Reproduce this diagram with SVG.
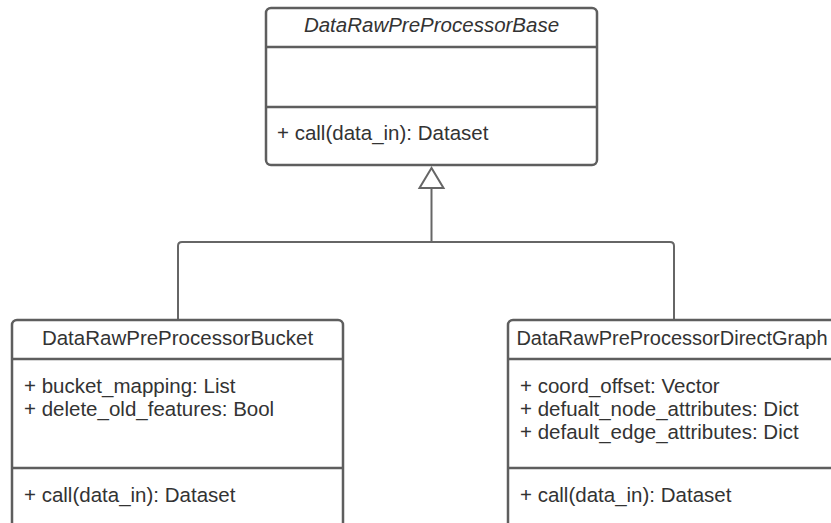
<svg xmlns="http://www.w3.org/2000/svg" width="831" height="523" viewBox="0 0 831 523">
  <style>
    .box { fill: #ffffff; stroke: #5e5e5e; stroke-width: 2.5; }
    .sep { stroke: #5e5e5e; stroke-width: 2.5; fill: none; }
    .edge { stroke: #666666; stroke-width: 2; fill: none; }
    .tri { fill: #ffffff; stroke: #666666; stroke-width: 2; stroke-linejoin: miter; }
    text { font-family: "Liberation Sans", Arial, sans-serif; font-size: 20.5px; fill: #333333; }
    .title { text-anchor: middle; }
    .abstract { font-style: italic; }
    .narrow { font-size: 20px; }
  </style>
  <rect width="831" height="523" fill="#ffffff"/>

  <!-- inheritance connectors -->
  <g id="connectors">
    <path class="edge" d="M178 320 V246 Q178 242 182 242 H670 Q674 242 674 246 V320"/>
    <path class="edge" d="M431.5 188 V242"/>
    <polygon class="tri" points="431.5,168 419.5,188 443.5,188"/>
  </g>

  <g id="DataRawPreProcessorBase">
    <rect class="box" x="266" y="8" width="331" height="157" rx="5"/>
    <line class="sep" x1="266" y1="47" x2="597" y2="47"/>
    <line class="sep" x1="266" y1="107" x2="597" y2="107"/>
    <text class="title abstract" x="431.5" y="32">DataRawPreProcessorBase</text>
    <text x="277" y="140">+ call(data_in): Dataset</text>
  </g>

  <g id="DataRawPreProcessorBucket">
    <rect class="box" x="12" y="320" width="331" height="230" rx="5"/>
    <line class="sep" x1="12" y1="359" x2="343" y2="359"/>
    <line class="sep" x1="12" y1="468" x2="343" y2="468"/>
    <text class="title" x="177.5" y="345">DataRawPreProcessorBucket</text>
    <text x="24" y="393">+ bucket_mapping: List</text>
    <text x="24" y="416">+ delete_old_features: Bool</text>
    <text x="24" y="502">+ call(data_in): Dataset</text>
  </g>

  <g id="DataRawPreProcessorDirectGraph">
    <rect class="box" x="508" y="320" width="331" height="230" rx="5"/>
    <line class="sep" x1="508" y1="359" x2="839" y2="359"/>
    <line class="sep" x1="508" y1="468" x2="839" y2="468"/>
    <text class="title narrow" x="672" y="345">DataRawPreProcessorDirectGraph</text>
    <text x="520" y="393">+ coord_offset: Vector</text>
    <text x="520" y="416">+ defualt_node_attributes: Dict</text>
    <text x="520" y="439">+ default_edge_attributes: Dict</text>
    <text x="520" y="502">+ call(data_in): Dataset</text>
  </g>
</svg>
